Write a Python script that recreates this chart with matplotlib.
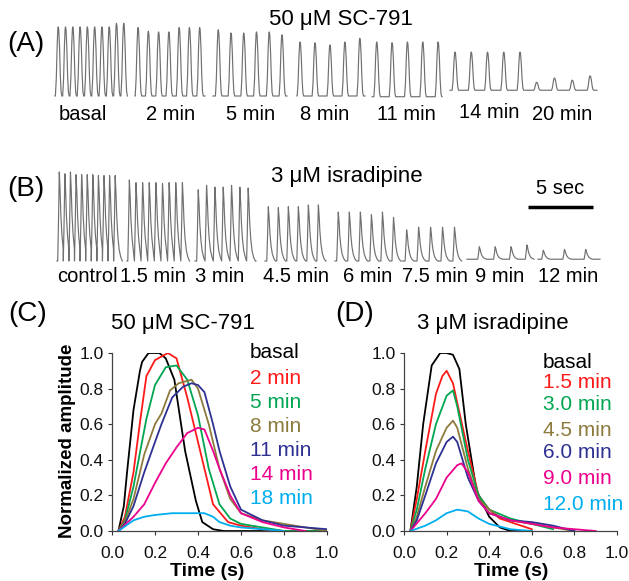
import matplotlib
matplotlib.use('Agg')
import matplotlib.pyplot as plt
import numpy as np

plt.rcParams['font.family'] = ['Liberation Sans', 'DejaVu Sans']

W, H = 629, 581
PX_PER_SEC = 13.0

# ---- (A) 50 uM SC-791 traces (time in s, amplitude relative to basal) ----
a_labels = ['basal', '2 min', '5 min', '8 min', '11 min', '14 min', '20 min']
a_seg_start = [4.23, 10.38, 16.38, 22.85, 28.62, 34.62, 40.38]
a_seg_end = [9.77, 15.77, 22.08, 28.08, 34.00, 40.15, 45.92]
a_first_peak = [4.48, 10.62, 16.79, 23.08, 28.98, 35.00, 41.28]
a_period = [0.56, 0.79, 0.98, 1.15, 1.18, 1.25, 1.37]
a_base = [0.0, 0.0, 0.0, 0.0, -0.01, 0.08, 0.08]
a_peaks = [
    [0.96, 0.96, 0.96, 0.96, 0.96, 0.96, 0.96, 0.96, 1.01, 1.01],
    [0.95, 0.90, 0.89, 0.89, 0.95, 0.95, 0.95],
    [0.92, 0.875, 0.875, 0.89, 0.89, 0.85],
    [0.75, 0.74, 0.71, 0.75, 0.80],
    [0.76, 0.75, 0.76, 0.76, 0.76],
    [0.53, 0.53, 0.53, 0.53, 0.53],
    [0.11, 0.17, 0.14, 0.20],
]
a_beat_t = [-0.22, -0.15, -0.08, -0.03, 0.0, 0.04, 0.10, 0.16, 0.22, 0.28]
a_beat_y = [0.0, 0.25, 0.75, 0.97, 1.0, 0.96, 0.70, 0.30, 0.06, 0.0]

# ---- (B) 3 uM isradipine traces ----
b_labels = ['control', '1.5 min', '3 min', '4.5 min', '6 min', '7.5 min', '9 min', '12 min']
b_seg_start = [4.38, 9.77, 15.00, 20.38, 25.77, 30.92, 35.92, 41.38]
b_seg_end = [9.08, 14.31, 19.69, 25.08, 30.54, 35.23, 40.69, 46.15]
b_first_peak = [4.56, 9.95, 15.25, 20.64, 26.02, 31.28, 36.87, 41.79]
b_period = [0.43, 0.51, 0.64, 0.77, 0.85, 0.92, 1.22, 1.63]
b_base = [0.0, 0.0, 0.0, 0.0, 0.0, 0.0, 0.02, 0.02]
b_peaks = [
    [1.0, 0.98, 1.0, 0.97, 0.97, 0.97, 0.97, 0.96, 0.96, 0.96, 0.96],
    [0.91, 0.88, 0.88, 0.88, 0.88, 0.87, 0.88, 0.88, 0.88],
    [0.80, 0.85, 0.83, 0.83, 0.85, 0.83, 0.82],
    [0.61, 0.60, 0.61, 0.61, 0.63, 0.63],
    [0.55, 0.55, 0.55, 0.52, 0.55, 0.49],
    [0.35, 0.38, 0.38, 0.38, 0.38],
    [0.14, 0.14, 0.14, 0.16],
    [0.10, 0.11, 0.11],
]
b_beat_t = [-0.12, -0.06, 0.0, 0.06, 0.12, 0.20, 0.30, 0.42, 0.55]
b_beat_y = [0.0, 0.45, 1.0, 0.80, 0.52, 0.30, 0.14, 0.05, 0.0]
scale_bar_sec = 5

# ---- (C) averaged transients, 50 uM SC-791 ----
c_labels = ['basal', '2 min', '5 min', '8 min', '11 min', '14 min', '18 min']
c_curves = [
    ([0.03, 0.055, 0.07, 0.10, 0.13, 0.14, 0.17, 0.22, 0.25, 0.29, 0.34, 0.39, 0.42, 0.47, 0.52, 0.60, 1.0],
     [0.0, 0.14, 0.33, 0.68, 0.90, 0.95, 1.0, 1.0, 0.97, 0.85, 0.45, 0.17, 0.05, 0.01, 0.0, 0.0, 0.0]),
    ([0.03, 0.06, 0.10, 0.13, 0.16, 0.20, 0.26, 0.30, 0.35, 0.42, 0.47, 0.54, 0.60, 0.70, 0.80, 1.0],
     [0.0, 0.08, 0.33, 0.61, 0.87, 0.96, 1.0, 0.97, 0.75, 0.40, 0.15, 0.05, 0.03, 0.01, 0.0, 0.0]),
    ([0.03, 0.06, 0.10, 0.13, 0.16, 0.20, 0.25, 0.30, 0.35, 0.40, 0.45, 0.50, 0.55, 0.60, 0.70, 0.80, 1.0],
     [0.0, 0.06, 0.25, 0.44, 0.63, 0.82, 0.92, 0.93, 0.85, 0.65, 0.35, 0.15, 0.07, 0.04, 0.02, 0.0, 0.0]),
    ([0.03, 0.06, 0.10, 0.15, 0.20, 0.23, 0.27, 0.31, 0.37, 0.40, 0.45, 0.50, 0.55, 0.60, 0.70, 0.80, 0.90, 1.0],
     [0.0, 0.05, 0.18, 0.43, 0.60, 0.66, 0.79, 0.83, 0.85, 0.80, 0.60, 0.35, 0.18, 0.10, 0.06, 0.04, 0.02, 0.0]),
    ([0.03, 0.06, 0.10, 0.15, 0.20, 0.23, 0.28, 0.33, 0.37, 0.40, 0.43, 0.47, 0.50, 0.55, 0.60, 0.70, 0.80, 0.90, 1.0],
     [0.0, 0.04, 0.14, 0.33, 0.50, 0.60, 0.75, 0.81, 0.83, 0.82, 0.78, 0.60, 0.45, 0.25, 0.12, 0.06, 0.03, 0.02, 0.01]),
    ([0.03, 0.10, 0.15, 0.20, 0.25, 0.30, 0.35, 0.40, 0.43, 0.47, 0.50, 0.55, 0.60, 0.70, 0.80, 0.90],
     [0.0, 0.08, 0.15, 0.27, 0.38, 0.47, 0.55, 0.58, 0.57, 0.45, 0.35, 0.20, 0.10, 0.05, 0.02, 0.0]),
    ([0.03, 0.10, 0.15, 0.20, 0.28, 0.35, 0.43, 0.47, 0.50, 0.55, 0.60, 0.70, 0.80],
     [0.0, 0.06, 0.08, 0.09, 0.10, 0.10, 0.10, 0.08, 0.05, 0.03, 0.02, 0.01, 0.0]),
]

# ---- (D) averaged transients, 3 uM isradipine ----
d_labels = ['basal', '1.5 min', '3.0 min', '4.5 min', '6.0 min', '9.0 min', '12.0 min']
d_curves = [
    ([0.03, 0.06, 0.09, 0.13, 0.17, 0.20, 0.23, 0.26, 0.29, 0.34, 0.40, 0.45, 0.50, 0.60],
     [0.0, 0.25, 0.60, 0.93, 1.0, 1.0, 0.99, 0.91, 0.60, 0.23, 0.08, 0.02, 0.0, 0.0]),
    ([0.03, 0.06, 0.10, 0.15, 0.18, 0.20, 0.23, 0.25, 0.30, 0.35, 0.40, 0.45, 0.50, 0.55, 0.60],
     [0.0, 0.18, 0.45, 0.77, 0.87, 0.90, 0.83, 0.72, 0.45, 0.20, 0.12, 0.07, 0.05, 0.03, 0.01]),
    ([0.03, 0.06, 0.10, 0.15, 0.20, 0.23, 0.25, 0.30, 0.35, 0.40, 0.50, 0.60, 0.70],
     [0.0, 0.12, 0.35, 0.60, 0.76, 0.79, 0.70, 0.40, 0.20, 0.12, 0.07, 0.04, 0.01]),
    ([0.03, 0.06, 0.10, 0.15, 0.20, 0.23, 0.25, 0.30, 0.35, 0.40, 0.45, 0.50, 0.60, 0.70, 0.80],
     [0.0, 0.08, 0.25, 0.45, 0.58, 0.62, 0.58, 0.35, 0.18, 0.12, 0.08, 0.06, 0.04, 0.02, 0.0]),
    ([0.03, 0.06, 0.10, 0.15, 0.20, 0.23, 0.25, 0.30, 0.35, 0.40, 0.50, 0.60, 0.70, 0.80],
     [0.0, 0.06, 0.20, 0.38, 0.50, 0.53, 0.50, 0.30, 0.17, 0.10, 0.06, 0.05, 0.03, 0.0]),
    ([0.03, 0.10, 0.15, 0.20, 0.25, 0.27, 0.30, 0.35, 0.40, 0.50, 0.60, 0.70, 0.80, 0.90],
     [0.0, 0.10, 0.18, 0.30, 0.37, 0.38, 0.33, 0.17, 0.10, 0.06, 0.04, 0.02, 0.01, 0.0]),
    ([0.03, 0.10, 0.15, 0.20, 0.25, 0.30, 0.35, 0.40, 0.50, 0.60],
     [0.0, 0.03, 0.06, 0.10, 0.12, 0.11, 0.07, 0.04, 0.01, 0.0]),
]

curve_colors = ['#000000', '#ff1a1a', '#00a651', '#8c7b3c', '#2e3192', '#ec008c', '#00aeef']
trace_color = '#707070'


def fx(px):
    return px / W


def fy(py):
    return 1 - py / H


def build_trace(start, end, first_peak, period, peaks, base, beat_t, beat_y):
    beat_t = np.asarray(beat_t)
    beat_y = np.asarray(beat_y)
    ts, ys = [start], [base]
    for i, amp in enumerate(peaks):
        tp = first_peak + i * period
        tt = tp + beat_t
        if i < len(peaks) - 1:
            keep = tt < tp + period + beat_t[0]
        else:
            keep = np.ones(len(tt), bool)
        ts.extend(tt[keep])
        ys.extend(base + amp * beat_y[keep])
    if end > ts[-1]:
        ts.append(end)
        ys.append(base)
    return ts, ys


def trace_axes(fig, top_px, bottom_px, base_px, unit_px):
    ax = fig.add_axes([0, fy(bottom_px), 1, (bottom_px - top_px) / H])
    ax.set_xlim(0, W / PX_PER_SEC)
    ax.set_ylim(-(bottom_px - base_px) / unit_px, (base_px - top_px) / unit_px)
    ax.axis('off')
    return ax


fig = plt.figure(figsize=(W / 100, H / 100), dpi=100)

# panel A
axA = trace_axes(fig, 10, 105, 96, 72)
for k in range(len(a_labels)):
    t, y = build_trace(a_seg_start[k], a_seg_end[k], a_first_peak[k], a_period[k],
                       a_peaks[k], a_base[k], a_beat_t, a_beat_y)
    axA.plot(t, y, color=trace_color, lw=0.85)
a_label_x = [83, 171, 251, 325, 406, 489, 562]
a_label_y = [115, 115, 115, 115, 115, 113, 115]
for lab, x, y in zip(a_labels, a_label_x, a_label_y):
    fig.text(fx(x), fy(y), lab, fontsize=14.5, ha='center', va='center')
fig.text(fx(26), fy(44), '(A)', fontsize=20, ha='center', va='center')
fig.text(fx(341), fy(20), '50 \u03bcM SC-791', fontsize=16, ha='center', va='center')

# panel B
axB = trace_axes(fig, 160, 270, 261, 89)
for k in range(len(b_labels)):
    t, y = build_trace(b_seg_start[k], b_seg_end[k], b_first_peak[k], b_period[k],
                       b_peaks[k], b_base[k], b_beat_t, b_beat_y)
    axB.plot(t, y, color=trace_color, lw=0.85)
b_label_x = [87, 153, 220, 296, 368, 435, 500, 568]
for lab, x in zip(b_labels, b_label_x):
    fig.text(fx(x), fy(277), lab, fontsize=14.5, ha='center', va='center')
fig.text(fx(26), fy(189), '(B)', fontsize=20, ha='center', va='center')
fig.text(fx(347), fy(176), '3 \u03bcM isradipine', fontsize=16, ha='center', va='center')

bar_x0 = 528 / PX_PER_SEC
bar_y = (261 - 207) / 89
axB.plot([bar_x0, bar_x0 + scale_bar_sec], [bar_y, bar_y], color='black', lw=2.5,
         solid_capstyle='butt', clip_on=False)
axB.text(bar_x0 + scale_bar_sec / 2, (261 - 188) / 89, '%d sec' % scale_bar_sec,
         fontsize=14.5, ha='center', va='center')


# panels C and D
def curve_axes(left_px, right_px, curves, labels, leg_x, leg_y):
    ax = fig.add_axes([fx(left_px), fy(531), (right_px - left_px) / W, (531 - 353) / H])
    for (xs, ys), col in zip(curves, curve_colors):
        ax.plot(xs, ys, color=col, lw=1.3)
    ax.set_xlim(0, 1.0)
    ax.set_ylim(0, 1.0)
    ax.set_xticks(np.arange(0, 1.01, 0.2))
    ax.set_yticks(np.arange(0, 1.01, 0.2))
    ax.xaxis.set_major_formatter(matplotlib.ticker.FormatStrFormatter('%.1f'))
    ax.yaxis.set_major_formatter(matplotlib.ticker.FormatStrFormatter('%.1f'))
    ax.tick_params(direction='out', length=3, width=0.8, labelsize=12.5,
                   colors='#333333', labelcolor='#111111', pad=3)
    ax.tick_params(axis='x', pad=8)
    for s in ['top', 'right']:
        ax.spines[s].set_visible(False)
    for s in ['left', 'bottom']:
        ax.spines[s].set_color('#444444')
        ax.spines[s].set_linewidth(0.9)
    for lab, col, y in zip(labels, curve_colors, leg_y):
        fig.text(fx(leg_x), fy(y), lab, color=col, fontsize=15, ha='left', va='center')
    return ax


axC = curve_axes(112, 327, c_curves, c_labels, 250, [353, 378, 402, 426, 450, 474, 498])
axD = curve_axes(404, 617, d_curves, d_labels, 543, [362, 382, 405, 430, 453, 478, 505])

fig.text(fx(28), fy(314), '(C)', fontsize=20, ha='center', va='center')
fig.text(fx(355), fy(314), '(D)', fontsize=20, ha='center', va='center')
fig.text(fx(183), fy(324), '50 \u03bcM SC-791', fontsize=16, ha='center', va='center')
fig.text(fx(493), fy(324), '3 \u03bcM isradipine', fontsize=16, ha='center', va='center')
fig.text(fx(67), fy(441), 'Normalized amplitude', fontsize=13.5, fontweight='bold',
         rotation=90, ha='center', va='center')
fig.text(fx(207), fy(572), 'Time (s)', fontsize=14, fontweight='bold', ha='center', va='center')
fig.text(fx(511), fy(572), 'Time (s)', fontsize=14, fontweight='bold', ha='center', va='center')

fig.savefig('out.png', dpi=100)
